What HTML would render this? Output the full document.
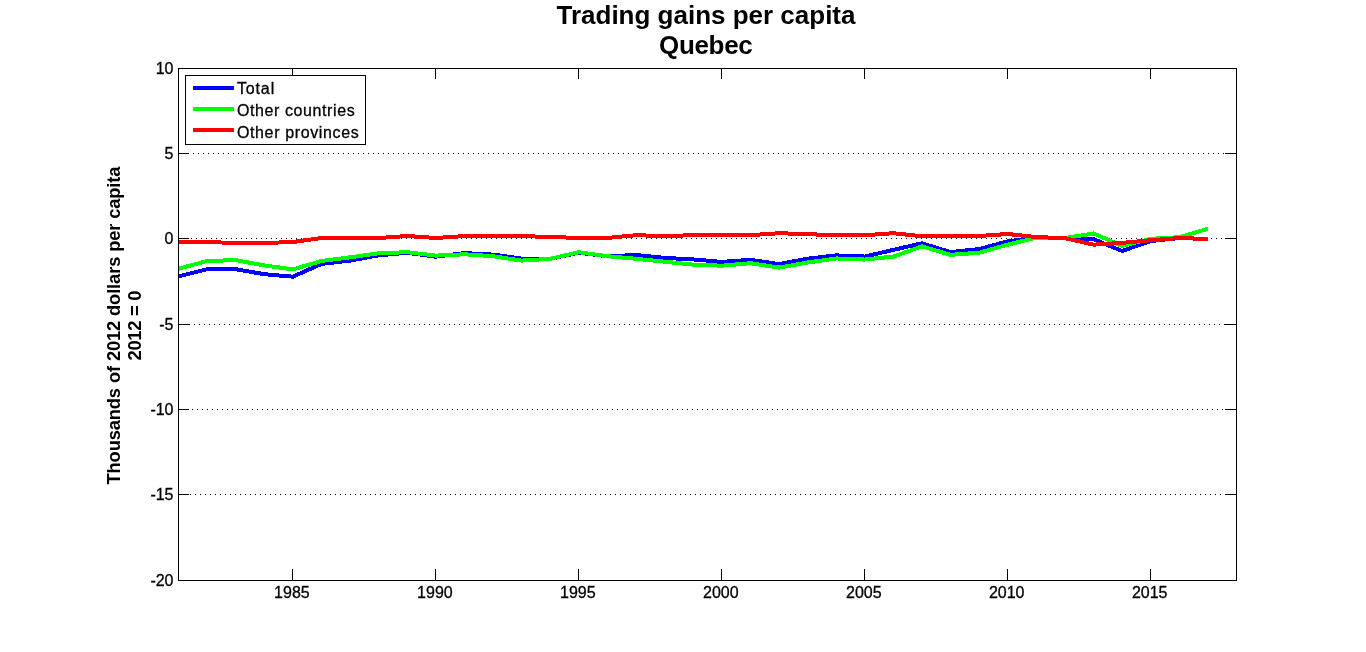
<!DOCTYPE html>
<html><head><meta charset="utf-8"><title>Trading gains per capita - Quebec</title>
<style>
html,body{margin:0;padding:0;background:#fff;}
body{width:1366px;height:652px;overflow:hidden;}
svg{display:block;}
text{font-family:"Liberation Sans",Arial,Helvetica,sans-serif;fill:#000;}
.t{font-size:16px;stroke:#000;stroke-width:0.3px;}
.b{font-weight:bold;}
</style></head><body>
<svg width="1366" height="652" viewBox="0 0 1366 652">
<rect x="0" y="0" width="1366" height="652" fill="#fff"/>
<text class="b" x="556.5" y="24" font-size="26" textLength="299" lengthAdjust="spacing">Trading gains per capita</text>
<text class="b" x="659" y="53.6" font-size="26" textLength="93.8" lengthAdjust="spacing">Quebec</text>
<text class="b" font-size="18.3" textLength="318" lengthAdjust="spacing" transform="translate(120.2,484.5) rotate(-90)">Thousands of 2012 dollars per capita</text>
<text class="b" font-size="18.3" textLength="70" lengthAdjust="spacing" transform="translate(141.3,360.5) rotate(-90)">2012 = 0</text>
<g shape-rendering="crispEdges" stroke="#000" stroke-width="1" fill="none">
<line x1="183" y1="153.5" x2="1236" y2="153.5" stroke-dasharray="1 4"/>
<line x1="181" y1="238.5" x2="1236" y2="238.5" stroke-dasharray="1 4"/>
<line x1="184" y1="324.5" x2="1236" y2="324.5" stroke-dasharray="1 4"/>
<line x1="182" y1="409.5" x2="1236" y2="409.5" stroke-dasharray="1 4"/>
<line x1="180" y1="494.5" x2="1236" y2="494.5" stroke-dasharray="1 4"/>
</g>
<g shape-rendering="crispEdges" fill="none" stroke-width="4" stroke-linejoin="round" stroke-linecap="butt">
<polyline stroke="#0000ff" points="178.50,276.40 207.09,269.20 235.69,269.20 264.28,274.20 292.88,276.70 321.47,263.90 350.07,260.60 378.66,255.30 407.26,252.80 435.85,256.70 464.45,253.10 493.04,254.60 521.64,258.65 550.23,258.90 578.82,252.65 607.42,256.30 636.01,255.00 664.61,257.90 693.20,259.40 721.80,261.90 750.39,259.80 778.99,264.10 807.58,258.65 836.18,255.40 864.77,256.55 893.36,249.90 921.96,243.30 950.55,252.10 979.15,249.05 1007.74,241.30 1036.34,237.60 1064.93,238.10 1093.53,239.20 1122.12,251.00 1150.72,241.00 1179.31,238.05 1207.91,239.00"/>
<polyline stroke="#00ff00" points="178.50,268.75 207.09,261.00 235.69,260.10 264.28,265.40 292.88,269.40 321.47,261.00 350.07,257.30 378.66,253.30 407.26,252.20 435.85,255.60 464.45,254.30 493.04,256.20 521.64,260.60 550.23,258.80 578.82,252.20 607.42,256.20 636.01,258.80 664.61,261.70 693.20,264.66 721.80,265.70 750.39,263.20 778.99,267.60 807.58,262.50 836.18,258.45 864.77,259.55 893.36,256.60 921.96,246.35 950.55,254.85 979.15,252.70 1007.74,244.66 1036.34,237.70 1064.93,238.10 1093.53,233.40 1122.12,246.00 1150.72,238.80 1179.31,237.20 1207.91,228.80"/>
<polyline stroke="#ff0000" points="178.50,242.00 207.09,242.00 235.69,243.00 264.28,243.00 292.88,242.00 321.47,238.00 350.07,238.00 378.66,238.00 407.26,236.00 435.85,238.00 464.45,236.10 493.04,236.00 521.64,236.10 550.23,237.00 578.82,237.94 607.42,237.94 636.01,235.20 664.61,236.10 693.20,235.20 721.80,235.20 750.39,235.20 778.99,233.20 807.58,234.20 836.18,235.20 864.77,235.20 893.36,233.20 921.96,236.25 950.55,236.25 979.15,236.00 1007.74,234.00 1036.34,237.10 1064.93,238.10 1093.53,244.66 1122.12,242.90 1150.72,240.20 1179.31,238.00 1207.91,239.00"/>
</g>
<g shape-rendering="crispEdges" stroke="#000" stroke-width="1" fill="none">
<rect x="178.5" y="68.5" width="1058" height="512"/>
<line x1="179" y1="153.5" x2="189" y2="153.5"/>
<line x1="1225" y1="153.5" x2="1236" y2="153.5"/>
<line x1="179" y1="238.5" x2="189" y2="238.5"/>
<line x1="1225" y1="238.5" x2="1236" y2="238.5"/>
<line x1="179" y1="324.5" x2="189" y2="324.5"/>
<line x1="1225" y1="324.5" x2="1236" y2="324.5"/>
<line x1="179" y1="409.5" x2="189" y2="409.5"/>
<line x1="1225" y1="409.5" x2="1236" y2="409.5"/>
<line x1="179" y1="494.5" x2="189" y2="494.5"/>
<line x1="1225" y1="494.5" x2="1236" y2="494.5"/>
<line x1="292.5" y1="69" x2="292.5" y2="79"/>
<line x1="292.5" y1="569" x2="292.5" y2="580"/>
<line x1="435.5" y1="69" x2="435.5" y2="79"/>
<line x1="435.5" y1="569" x2="435.5" y2="580"/>
<line x1="578.5" y1="69" x2="578.5" y2="79"/>
<line x1="578.5" y1="569" x2="578.5" y2="580"/>
<line x1="721.5" y1="69" x2="721.5" y2="79"/>
<line x1="721.5" y1="569" x2="721.5" y2="580"/>
<line x1="864.5" y1="69" x2="864.5" y2="79"/>
<line x1="864.5" y1="569" x2="864.5" y2="580"/>
<line x1="1007.5" y1="69" x2="1007.5" y2="79"/>
<line x1="1007.5" y1="569" x2="1007.5" y2="580"/>
<line x1="1150.5" y1="69" x2="1150.5" y2="79"/>
<line x1="1150.5" y1="569" x2="1150.5" y2="580"/>
</g>
<text class="t" x="173.5" y="74.2" text-anchor="end">10</text>
<text class="t" x="173.5" y="159.2" text-anchor="end">5</text>
<text class="t" x="173.5" y="244.2" text-anchor="end">0</text>
<text class="t" x="173.5" y="330.2" text-anchor="end">-5</text>
<text class="t" x="173.5" y="415.2" text-anchor="end">-10</text>
<text class="t" x="173.5" y="500.2" text-anchor="end">-15</text>
<text class="t" x="173.5" y="586.2" text-anchor="end">-20</text>
<text class="t" x="291.9" y="597.8" text-anchor="middle">1985</text>
<text class="t" x="434.9" y="597.8" text-anchor="middle">1990</text>
<text class="t" x="577.8" y="597.8" text-anchor="middle">1995</text>
<text class="t" x="720.8" y="597.8" text-anchor="middle">2000</text>
<text class="t" x="863.8" y="597.8" text-anchor="middle">2005</text>
<text class="t" x="1006.7" y="597.8" text-anchor="middle">2010</text>
<text class="t" x="1149.7" y="597.8" text-anchor="middle">2015</text>
<g shape-rendering="crispEdges">
<rect x="185.5" y="75.5" width="180" height="69" fill="#fff" stroke="#000" stroke-width="1"/>
<line x1="193" y1="88" x2="234" y2="88" stroke="#0000ff" stroke-width="4"/>
<line x1="193" y1="109" x2="234" y2="109" stroke="#00ff00" stroke-width="4"/>
<line x1="193" y1="130" x2="234" y2="130" stroke="#ff0000" stroke-width="4"/>
</g>
<text class="t" x="236.9" y="93.8" textLength="37.3" lengthAdjust="spacing">Total</text>
<text class="t" x="236.9" y="116.2" textLength="117.8" lengthAdjust="spacing">Other countries</text>
<text class="t" x="236.9" y="137.9" textLength="121.8" lengthAdjust="spacing">Other provinces</text>
</svg>
</body></html>
